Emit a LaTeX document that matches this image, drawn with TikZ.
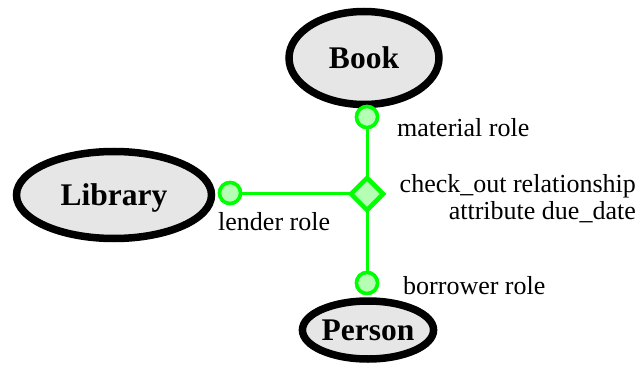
\documentclass[tikz,border=0pt]{standalone}
\usepackage{fontspec}
\setmainfont{Liberation Serif}
\usetikzlibrary{shapes.geometric}
\definecolor{rolegreen}{RGB}{0,255,0}
\definecolor{rolefill}{RGB}{180,255,180}
\definecolor{entfill}{RGB}{230,230,230}
\tikzset{
  entity/.style={ellipse, draw=black, line width=7.5pt, fill=entfill, inner sep=0pt,
    text depth=0pt, font=\fontsize{31.5}{34}\selectfont\bfseries},
  rolept/.style={circle, draw=rolegreen, line width=3.5pt, fill=rolefill, minimum size=21pt, inner sep=0pt},
  relbox/.style={diamond, draw=rolegreen, line width=4.5pt, fill=rolefill, minimum width=34pt, minimum height=34pt, inner sep=0pt},
  link/.style={draw=rolegreen, line width=3pt},
  lbl/.style={inner sep=0pt, font=\fontsize{26}{28}\selectfont}
}
\begin{document}
\begin{tikzpicture}[x=1pt,y=-1pt]
\useasboundingbox (0,0) rectangle (639,366);
\node[entity, minimum width=150pt, minimum height=93pt] (book) at (364,58) {Book};
\node[entity, minimum width=195pt, minimum height=87pt] (library) at (114,195) {Library};
\node[entity, minimum width=130pt, minimum height=58pt] (person) at (368,330) {Person};
\coordinate (relc) at (367,194);
\node[rolept] (mat) at (367,117) {};
\node[rolept] (lend) at (230,193) {};
\node[rolept] (borr) at (367,283) {};
\draw[link] (relc) -- (mat);
\draw[link] (relc) -- (borr);
\draw[link] (relc |- lend) -- (lend);
\node[relbox] (rel) at (relc) {};
\node[rolept] at (mat) {};
\node[rolept] at (lend) {};
\node[rolept] at (borr) {};
\node[lbl, anchor=mid west] (matl) at (397,134) {material role};
\node[lbl, anchor=mid west] (lendl) at (218,228) {lender role};
\node[lbl, anchor=mid west] (borrl) at (403,292) {borrower role};
\node[lbl, anchor=mid east] (rel1) at (636,190) {check\_out relationship};
\node[lbl, anchor=mid east] (rel2) at (636,217) {attribute due\_date};
\end{tikzpicture}
\end{document}
